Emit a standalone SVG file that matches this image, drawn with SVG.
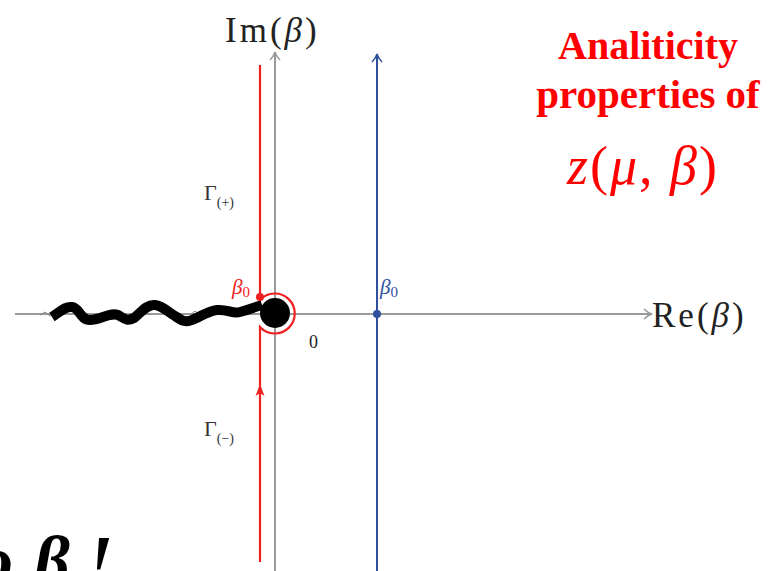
<svg xmlns="http://www.w3.org/2000/svg" width="774" height="571" viewBox="0 0 774 571">
<defs>
<style>
.ax{stroke:#9a9a9a;stroke-width:2;fill:none}
.red{stroke:#f02020;stroke-width:2.2;fill:none}
.blue{stroke:#2f4f9f;stroke-width:2;fill:none}
.t{font-family:"Liberation Serif","Times New Roman",serif}
</style>
<marker id="ga" markerWidth="12" markerHeight="12" refX="10" refY="6" orient="auto" markerUnits="userSpaceOnUse"><path d="M2,1 Q6,5 10,6 Q6,7 2,11" fill="none" stroke="#9a9a9a" stroke-width="1.6"/></marker>
<marker id="ba" markerWidth="12" markerHeight="12" refX="10" refY="6" orient="auto" markerUnits="userSpaceOnUse"><path d="M2,1 Q6,5 10,6 Q6,7 2,11" fill="none" stroke="#2f4f9f" stroke-width="1.6"/></marker>
</defs>
<rect width="774" height="571" fill="#fff"/>
<g id="axes">
<line class="ax" x1="15" y1="314" x2="652" y2="314" marker-end="url(#ga)"/>
<line class="ax" x1="275" y1="571" x2="275" y2="52" marker-end="url(#ga)"/>
</g>
<g id="connectors">
<path d="M40,315 l5,-3 l5,4 l6,-3 M110,315 l5,-4 l5,4 M140,315 l5,-4 l5,4 M190,315 l5,-4 l5,4" fill="none" stroke="#888" stroke-width="1"/>
<path d="M52,317 C60,312 65,306 72,307 C80,308 80,320 90,320 C100,320 110,312 118,315 C124,318 126,322 134,318 C140,314 146,304 155,305 C163,306 168,312 175,316 C181,320 185,323 192,320 C200,317 208,311 217,310 C228,309 232,314 240,312 C248,310 252,308 262,305" fill="none" stroke="#000" stroke-width="10" stroke-linejoin="round"/>
<line class="red" x1="260" y1="65" x2="260" y2="297"/>
<path class="red" d="M260,300 A20,20 0 1 1 260,327 L260,562"/>
<path d="M260,384 L255.5,396 L260,393 L264.5,396 Z" fill="#f02020"/>
<line class="blue" x1="377" y1="571" x2="377" y2="54" marker-end="url(#ba)"/>
</g>
<g id="origin">
<circle cx="275" cy="313" r="15" fill="#000"/>
<circle cx="260" cy="297" r="4" fill="#f02020"/>
<circle cx="377" cy="314" r="4" fill="#2f4f9f"/>
</g>
<g id="labels">
<text class="t" x="225" y="42" font-size="35" letter-spacing="3" fill="#222">Im(<tspan font-style="italic">β</tspan>)</text>
<text class="t" x="652" y="327" font-size="35" letter-spacing="3" fill="#222">Re(<tspan font-style="italic">β</tspan>)</text>
<text class="t" x="309" y="348" font-size="18" fill="#222">0</text>
<text class="t" x="232" y="294" font-size="21" fill="#f02020"><tspan font-style="italic">β</tspan><tspan font-size="15" dy="3">0</tspan></text>
<text class="t" x="380" y="294" font-size="21" fill="#2f4f9f"><tspan font-style="italic">β</tspan><tspan font-size="15" dy="3">0</tspan></text>
<text class="t" x="204" y="200" font-size="22" fill="#333">Γ<tspan font-size="14" dy="7">(+)</tspan></text>
<text class="t" x="204" y="436" font-size="22" fill="#333">Γ<tspan font-size="14" dy="7">(−)</tspan></text>
</g>
<g id="title" fill="#ff0000">
<text class="t" x="648" y="59" font-size="40" font-weight="bold" text-anchor="middle">Analiticity</text>
<text class="t" x="648" y="108" font-size="41" font-weight="bold" text-anchor="middle">properties of</text>
<text class="t" x="643" y="184" font-size="54" letter-spacing="2" text-anchor="middle"><tspan font-style="italic">z</tspan>(<tspan font-style="italic">μ</tspan>, <tspan font-style="italic">β</tspan>)</text>
</g>
<g id="bottom">
<text class="t" y="584" font-size="70" font-weight="bold" font-style="italic" fill="#000"><tspan x="-22">o</tspan><tspan x="34">β</tspan><tspan x="86">!</tspan></text>
</g>
</svg>
